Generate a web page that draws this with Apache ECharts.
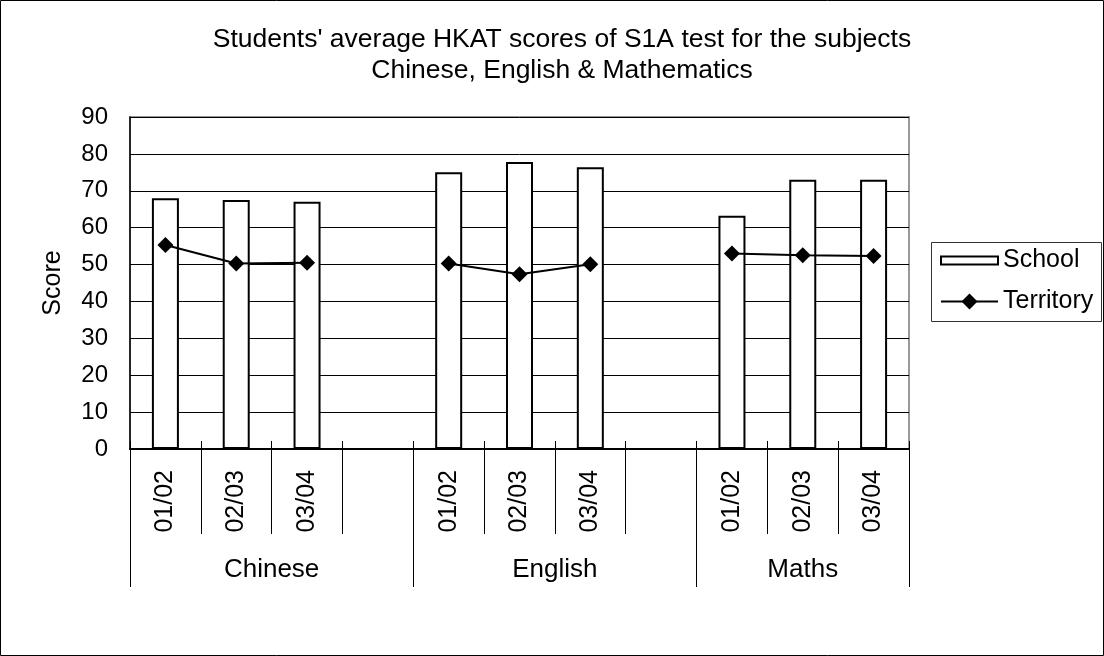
<!DOCTYPE html>
<html>
<head>
<meta charset="utf-8">
<title>HKAT scores</title>
<script src="https://cdn.jsdelivr.net/npm/echarts@6/dist/echarts.min.js"></script>
<style>
  html, body { margin: 0; padding: 0; background: #fff; }
  #chart { width: 1104px; height: 656px; }
</style>
</head>
<body>
<div id="chart"></div>
<script>

// data
const subjects = ['Chinese', 'English', 'Maths'];
const years = ['01/02', '02/03', '03/04'];
const schoolScores = [
  [68, 67.5, 67],
  [75, 77.8, 76.4],
  [63.2, 73, 73]
];
const territoryScores = [
  [55.3, 50.3, 50.5],
  [50.3, 47.4, 50.1],
  [53, 52.5, 52.3]
];
const yTicks = [0, 90, 10]; // min, max, step

const FONT = 'Liberation Sans';

// one empty slot between the subject groups, like the excel sheet
const categories = [];
const school = [];
const territory = [];
const groupEdges = [0];
const groupCenters = [];

subjects.forEach((subject, i) => {
  const start = categories.length;
  years.forEach((year, j) => {
    categories.push(year);
    school.push(schoolScores[i][j]);
    territory.push(territoryScores[i][j]);
  });
  groupCenters.push(start + years.length / 2);
  if (i < subjects.length - 1) {
    categories.push('');
    school.push('-');
    territory.push('-');
    groupCenters[i] = start + (years.length + 1) / 2;
  }
  groupEdges.push(categories.length);
});

const chart = echarts.init(document.getElementById('chart'));

const option = {
  animation: false,
  textStyle: { fontFamily: FONT, color: '#000' },
  title: {
    text: "Students' average HKAT scores of S1A test for the subjects\nChinese, English & Mathematics",
    left: 557,
    top: 19,
    textAlign: 'center',
    textStyle: {
      fontFamily: FONT,
      fontSize: 26.5,
      fontWeight: 'normal',
      color: '#000',
      lineHeight: 31
    }
  },
  legend: [{
    data: ['School'],
    left: 940,
    top: 248,
    padding: 0,
    itemWidth: 57,
    itemHeight: 8,
    icon: 'rect',
    itemStyle: { color: '#fff', borderColor: '#000', borderWidth: 2 },
    textStyle: { fontFamily: FONT, fontSize: 25, color: '#000' }
  }, {
    data: ['Territory'],
    left: 940,
    top: 289,
    padding: 0,
    itemWidth: 57,
    itemHeight: 20,
    textStyle: { fontFamily: FONT, fontSize: 25, color: '#000' }
  }],
  grid: {
    left: 130,
    right: 195,
    top: 117,
    bottom: 207,
    show: true,
    borderColor: '#999',
    borderWidth: 2
  },
  graphic: [{
    type: 'rect',
    shape: { x: 0.5, y: 0.5, width: 1103, height: 655 },
    style: { fill: 'none', stroke: '#000', lineWidth: 1 }
  }, {
    type: 'rect',
    shape: { x: 931.5, y: 242.5, width: 170, height: 79 },
    style: { fill: 'none', stroke: '#333', lineWidth: 1 }
  }],
  xAxis: [{
    // years
    type: 'category',
    data: categories,
    position: 'bottom',
    axisLine: { lineStyle: { color: '#000', width: 2 } },
    axisTick: { show: true, interval: 0, length: 85, lineStyle: { color: '#000', width: 1 } },
    axisLabel: {
      interval: 0,
      rotate: 90,
      margin: 21,
      fontFamily: FONT,
      fontSize: 25,
      color: '#000'
    },
    splitLine: { show: false }
  }, {
    // subject groups underneath
    type: 'value',
    min: 0,
    max: categories.length,
    position: 'bottom',
    offset: 138,
    axisLine: { show: false },
    axisTick: {
      show: true,
      inside: true,
      length: 138,
      customValues: groupEdges,
      lineStyle: { color: '#000', width: 1 }
    },
    axisLabel: {
      inside: true,
      margin: 4,
      customValues: groupCenters,
      formatter: (v) => subjects[groupCenters.indexOf(v)] || '',
      fontFamily: FONT,
      fontSize: 26,
      color: '#000'
    },
    splitLine: { show: false }
  }, {
    // short ticks crossing into the plot
    type: 'category',
    data: categories,
    position: 'bottom',
    axisLine: { show: false },
    axisTick: { show: true, interval: 0, inside: true, length: 8, lineStyle: { color: '#000' } },
    axisLabel: { show: false },
    splitLine: { show: false }
  }],
  yAxis: {
    type: 'value',
    min: yTicks[0],
    max: yTicks[1],
    interval: yTicks[2],
    name: 'Score',
    nameLocation: 'middle',
    nameGap: 64,
    nameTextStyle: { fontFamily: FONT, fontSize: 25, color: '#000' },
    axisLine: { show: true, lineStyle: { color: '#000', width: 1.5 } },
    axisTick: { show: true, inside: true, length: 8, lineStyle: { color: '#000' } },
    axisLabel: { margin: 22, fontFamily: FONT, fontSize: 24, color: '#000' },
    splitLine: { lineStyle: { color: '#000', width: 1 } }
  },
  series: [{
    name: 'School',
    type: 'bar',
    xAxisIndex: 0,
    data: school,
    barWidth: 27,
    itemStyle: { color: '#fff', borderColor: '#000', borderWidth: 2 }
  }, {
    name: 'Territory',
    type: 'line',
    xAxisIndex: 0,
    data: territory,
    symbol: 'diamond',
    symbolSize: 16,
    showSymbol: true,
    itemStyle: { color: '#000' },
    lineStyle: { color: '#000', width: 2 }
  }]
};

chart.setOption(option);

</script>
</body>
</html>
